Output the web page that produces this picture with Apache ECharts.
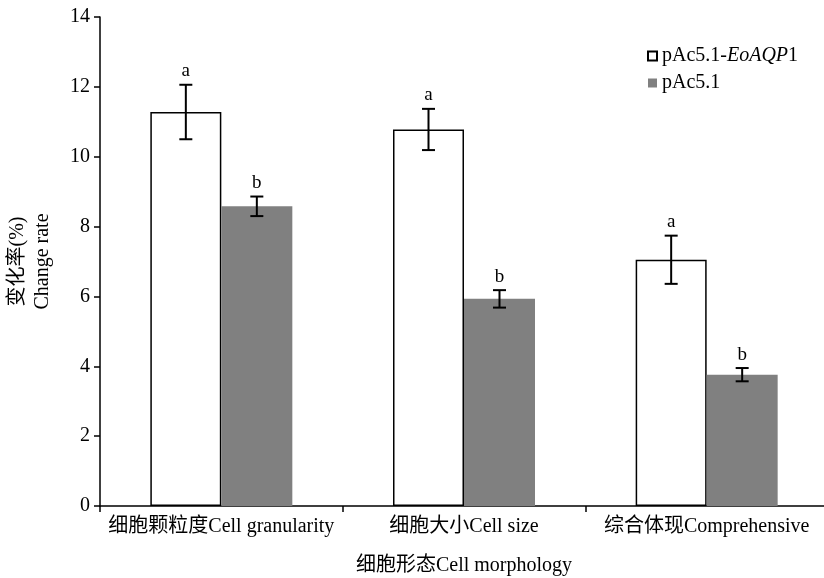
<!DOCTYPE html>
<html><head><meta charset="utf-8">
<script src="https://cdn.jsdelivr.net/npm/echarts@6/dist/echarts.min.js"></script>
<style>html,body{margin:0;padding:0;background:#fff}#c{width:824px;height:578px}</style>
</head><body><div id="c"></div>
<script>
const categories = ['细胞颗粒度Cell granularity', '细胞大小Cell size', '综合体现Comprehensive'];
const seriesNames = ['pAc5.1-EoAQP1', 'pAc5.1'];
const valuesAQP = [11.28, 10.78, 7.05];
const errAQP = [0.78, 0.59, 0.69];
const lettersAQP = ['a', 'a', 'a'];
const valuesCtrl = [8.58, 5.93, 3.76];
const errCtrl = [0.28, 0.25, 0.19];
const lettersCtrl = ['b', 'b', 'b'];
const yTicks = [0, 2, 4, 6, 8, 10, 12, 14];

const FONT = '"Liberation Serif", "Noto Sans CJK SC", serif';
const BAR_W = 71;

function errSeries(vals, errs, letters, side) {
  return {
    type: 'custom',
    silent: true,
    z: 5,
    data: vals.map((v, i) => [i, v, errs[i], letters[i]]),
    renderItem: function (params, api) {
      const i = api.value(0), v = api.value(1), e = api.value(2);
      const top = api.coord([i, v + e]);
      const bot = api.coord([i, v - e]);
      const x = top[0] + side * BAR_W / 2;
      const cap = 6.5;
      const st = { stroke: '#000', lineWidth: 2 };
      return {
        type: 'group',
        children: [
          { type: 'line', shape: { x1: x, y1: top[1], x2: x, y2: bot[1] }, style: st },
          { type: 'line', shape: { x1: x - cap, y1: top[1], x2: x + cap, y2: top[1] }, style: st },
          { type: 'line', shape: { x1: x - cap, y1: bot[1], x2: x + cap, y2: bot[1] }, style: st },
          { type: 'text', x: x, y: top[1] - 4, style: { text: letters[i], fill: '#000', font: '19px ' + FONT, align: 'center', verticalAlign: 'bottom' } }
        ]
      };
    }
  };
}

const chart = echarts.init(document.getElementById('c'));
chart.setOption({
  animation: false,
  backgroundColor: '#fff',
  textStyle: { fontFamily: FONT },
  grid: { left: 100, width: 728, top: 17, height: 489, outerBoundsMode: 'none', containLabel: false },
  legend: {
    orient: 'vertical',
    left: 642, top: 41,
    itemWidth: 9, itemHeight: 9, itemGap: 7,
    icon: 'rect',
    data: seriesNames,
    formatter: function (n) { return n === 'pAc5.1-EoAQP1' ? 'pAc5.1-{i|EoAQP}1' : n; },
    textStyle: {
      fontFamily: FONT, fontSize: 20, color: '#000',
      rich: { i: { fontFamily: FONT, fontSize: 20, fontStyle: 'italic', color: '#000' } }
    }
  },
  xAxis: {
    type: 'category',
    data: categories,
    name: '细胞形态Cell morphology',
    nameLocation: 'middle',
    nameGap: 50,
    nameTextStyle: { fontFamily: FONT, fontSize: 20, color: '#000' },
    axisLine: { lineStyle: { color: '#000', width: 1.5 } },
    axisTick: { show: true, length: 6, lineStyle: { color: '#000', width: 1.5 } },
    axisLabel: { fontFamily: FONT, fontSize: 20, color: '#000', margin: 11, interval: 0 },
    boundaryGap: true
  },
  yAxis: {
    type: 'value',
    min: yTicks[0], max: yTicks[yTicks.length - 1], interval: 2,
    name: '变化率(%)\nChange rate',
    nameLocation: 'middle',
    nameRotate: 90,
    nameGap: 45,
    nameTextStyle: { fontFamily: FONT, fontSize: 20, color: '#000', lineHeight: 25 },
    axisLine: { show: true, lineStyle: { color: '#000', width: 1.5 } },
    axisTick: { show: true, length: 6, lineStyle: { color: '#000', width: 1.5 } },
    axisLabel: { fontFamily: FONT, fontSize: 20, color: '#000', margin: 10 },
    splitLine: { show: false }
  },
  series: [
    {
      name: seriesNames[0], type: 'bar', data: valuesAQP,
      barWidth: BAR_W, barGap: '0%',
      itemStyle: { color: '#fff', borderColor: '#000', borderWidth: 1.5 }
    },
    {
      name: seriesNames[1], type: 'bar', data: valuesCtrl,
      barWidth: BAR_W, barGap: '0%',
      itemStyle: { color: '#808080' }
    },
    errSeries(valuesAQP, errAQP, lettersAQP, -1),
    errSeries(valuesCtrl, errCtrl, lettersCtrl, 1)
  ]
});
</script></body></html>
